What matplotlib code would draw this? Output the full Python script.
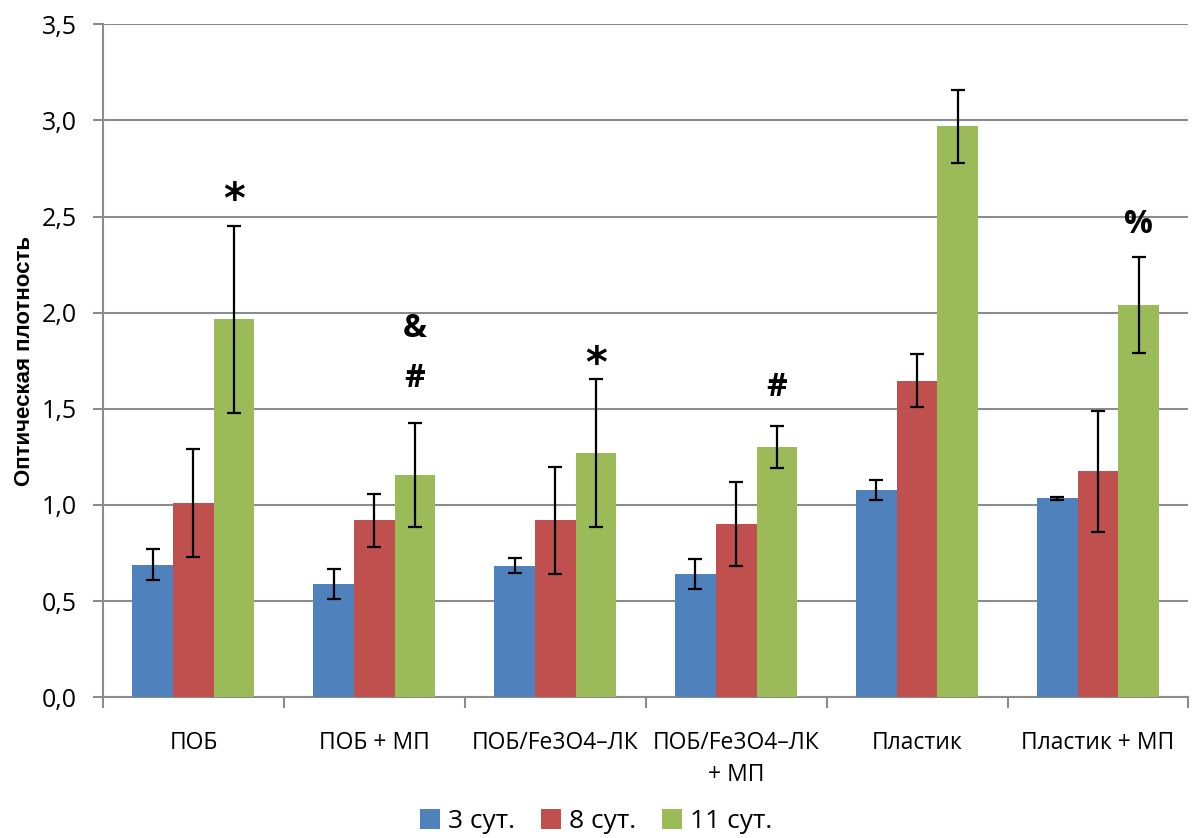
import numpy as np
import matplotlib
matplotlib.use("Agg")
import matplotlib.pyplot as plt
from matplotlib.patches import Patch

plt.rcParams['font.family'] = ['Open Sans', 'DejaVu Sans']

# data
categories = ["ПОБ", "ПОБ + МП", "ПОБ/Fe3O4–ЛК", "ПОБ/Fe3O4–ЛК\n+ МП", "Пластик", "Пластик + МП"]
series_names = ["3 сут.", "8 сут.", "11 сут."]
day3 = [0.69, 0.59, 0.685, 0.64, 1.08, 1.035]
day8 = [1.01, 0.92, 0.92, 0.90, 1.645, 1.175]
day11 = [1.965, 1.155, 1.27, 1.30, 2.97, 2.04]
err3 = [0.08, 0.078, 0.04, 0.078, 0.052, 0.008]
err8 = [0.28, 0.138, 0.28, 0.22, 0.138, 0.315]
err11 = [0.485, 0.27, 0.385, 0.11, 0.19, 0.25]
marks = [(0, "*", 2.64), (1, "&", 1.92), (1, "#", 1.66), (2, "*", 1.79), (3, "#", 1.61), (5, "%", 2.46)]

colors = ["#4F81BD", "#C0504D", "#9BBB59"]
grid_col = "#8C8C8C"

fig = plt.figure(figsize=(11.92, 8.38), dpi=100)
ax = fig.add_axes([0.0864, 0.168, 0.9106, 0.803])

x = np.arange(len(categories))
w = 0.225
vals = [day3, day8, day11]
errs = [err3, err8, err11]
for i in range(3):
    ax.bar(x + (i - 1) * w, vals[i], w, color=colors[i], zorder=3,
           yerr=errs[i], capsize=5,
           error_kw=dict(ecolor="black", elinewidth=1.6, capthick=1.6, zorder=4))

for gi, sym, yv in marks:
    if sym == "*":
        ax.text(gi + w, yv - 0.06, sym, ha="center", va="center", fontsize=30,
                fontweight="bold", family=["DejaVu Sans"])
    else:
        ax.text(gi + w, yv, sym, ha="center", va="center", fontsize=23, fontweight="bold")

ax.set_xlim(-0.5, len(categories) - 0.5)
ax.set_ylim(0, 3.5)
ax.set_yticks(np.arange(0, 3.51, 0.5))
ax.set_yticklabels([f"{v:.1f}".replace(".", ",") for v in np.arange(0, 3.51, 0.5)], fontsize=18)
ax.yaxis.grid(True, color=grid_col, linewidth=1.5, zorder=0)
ax.tick_params(axis="y", length=7, width=1.5, color=grid_col, pad=12)

ax.set_xticks(x)
ax.set_xticklabels(categories, fontsize=16.5, linespacing=1.45)
ax.set_xticks(np.arange(-0.5, len(categories), 1), minor=True)
ax.tick_params(axis="x", which="major", length=0, pad=24)
ax.tick_params(axis="x", which="minor", length=8, width=1.5, color=grid_col)

for s in ["top", "right"]:
    ax.spines[s].set_visible(False)
for s in ["left", "bottom"]:
    ax.spines[s].set_color(grid_col)
    ax.spines[s].set_linewidth(1.5)

ax.set_ylabel("Оптическая плотность", fontsize=16, fontweight="bold", labelpad=5,
              family=["Liberation Sans", "DejaVu Sans"])

handles = [Patch(facecolor=c) for c in colors]
fig.legend(handles, series_names, loc="lower center", bbox_to_anchor=(0.5, -0.024), ncol=3,
           frameon=False, fontsize=19, handlelength=0.75, handleheight=0.75,
           handletextpad=0.3, columnspacing=1.0)

fig.savefig("out.png", dpi=100)
